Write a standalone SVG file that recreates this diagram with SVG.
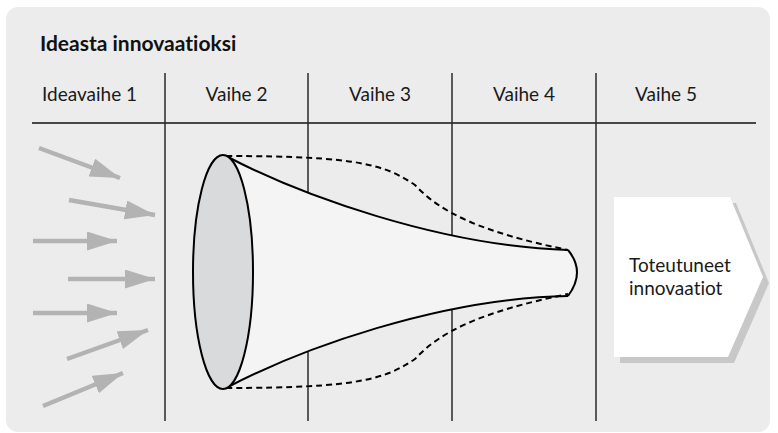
<svg xmlns="http://www.w3.org/2000/svg" width="778" height="433" viewBox="0 0 778 433">
<defs>
<style>
.hdr{font-family:Lato,"Open Sans","DejaVu Sans",sans-serif;font-size:19px;fill:#1a1a1a;font-variant-ligatures:none}
.ttl{font-family:Lato,"Open Sans","DejaVu Sans",sans-serif;font-size:21px;font-weight:bold;fill:#111;font-variant-ligatures:none}
.grid{stroke:#2a2a2a;stroke-width:1.5;fill:none}
.arr{stroke:#b3b3b3;stroke-width:4.5;fill:none;marker-end:url(#ah)}
.solid{stroke:#000;stroke-width:2;fill:none}
.dash{stroke:#000;stroke-width:2;fill:none;stroke-dasharray:6 4}
</style>
<marker id="ah" markerUnits="userSpaceOnUse" markerWidth="32" markerHeight="20" refX="30" refY="9.5" orient="auto" viewBox="0 0 32 20">
<polygon points="0,0 30,9.5 0,19" fill="#b3b3b3"/>
</marker>
</defs>
<rect x="0" y="0" width="778" height="433" fill="#ffffff"/>
<rect id="panel" x="6" y="7" width="764" height="425" rx="12" fill="#ececec"/>
<text class="ttl" x="40" y="51">Ideasta innovaatioksi</text>
<g id="grid">
<line class="grid" x1="32" y1="123" x2="756" y2="123" style="stroke:#111"/>
<line class="grid" x1="165" y1="73" x2="165" y2="421"/>
<line class="grid" x1="308" y1="73" x2="308" y2="421"/>
<line class="grid" x1="452" y1="73" x2="452" y2="421"/>
<line class="grid" x1="596" y1="73" x2="596" y2="421"/>
</g>
<g id="headers">
<text class="hdr" x="42" y="101">Ideavaihe 1</text>
<text class="hdr" x="236.5" y="101" text-anchor="middle">Vaihe 2</text>
<text class="hdr" x="380" y="101" text-anchor="middle">Vaihe 3</text>
<text class="hdr" x="524" y="101" text-anchor="middle">Vaihe 4</text>
<text class="hdr" x="666" y="101" text-anchor="middle">Vaihe 5</text>
</g>
<g id="connectors">
<line class="arr" x1="39" y1="148" x2="120" y2="178"/>
<line class="arr" x1="69" y1="200" x2="155" y2="215"/>
<line class="arr" x1="33" y1="241" x2="117" y2="241"/>
<line class="arr" x1="68" y1="279" x2="155" y2="279"/>
<line class="arr" x1="33" y1="313" x2="117" y2="313"/>
<line class="arr" x1="67" y1="359" x2="148" y2="330"/>
<line class="arr" x1="43" y1="406" x2="123" y2="373"/>
</g>
<g id="funnel">
<path d="M226,156 C300,195 440,246 568,250 Q586,272 568,296 C440,298 300,349 226,388 Z" fill="#f4f4f4" stroke="none"/>
<path class="solid" d="M226,156 C300,195 440,246 568,250"/>
<path class="solid" d="M226,388 C300,349 440,298 568,296"/>
<path class="solid" d="M568,250 Q586,272 568,296"/>
<path class="dash" d="M226,156 C360,156 385,165 415,185 C440,212 480,232 568,250"/>
<path class="dash" d="M226,388 C360,388 385,379 415,359 C440,332 480,312 568,294"/>
<ellipse cx="223" cy="272" rx="30" ry="117" fill="#d9dadc" stroke="#000" stroke-width="2"/>
</g>
<g id="result">
<polygon points="620,203 736,203 769,283 734,363 620,363" fill="#c8c8c8"/>
<polygon points="614,197 730,197 763,277 728,357 614,357" fill="#ffffff"/>
<text class="hdr" x="629" y="272">Toteutuneet</text>
<text class="hdr" x="629" y="295">innovaatiot</text>
</g>
</svg>
